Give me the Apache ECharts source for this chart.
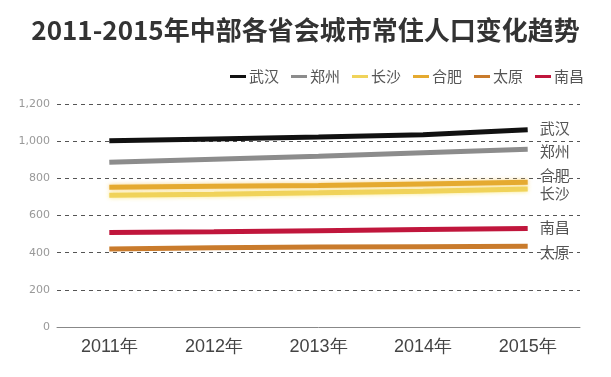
<!DOCTYPE html>
<html>
<head>
<meta charset="utf-8">
<script src="https://cdn.jsdelivr.net/npm/echarts@6/dist/echarts.min.js"></script>
<style>
  html, body { margin: 0; padding: 0; background: #fff; }
  #chart { width: 611px; height: 377px; }
</style>
</head>
<body>
<div id="chart"></div>
<script>
const years = ["2011年", "2012年", "2013年", "2014年", "2015年"];
const wuhan = [1002, 1012, 1022, 1034, 1061];
const zhengzhou = [886, 903, 919, 938, 957];
const changsha = [709, 715, 722, 731, 743];
const hefei = [752, 757, 761, 770, 779];
const taiyuan = [420, 426, 430, 432, 434];
const nanchang = [509, 512, 518, 524, 530];

const chart = echarts.init(document.getElementById("chart"));

// 每条线的样式和末端标签偏移
function line(name, data, color, offsetY, glow) {
  return {
    name: name,
    type: "line",
    data: data,
    symbol: "none",
    lineStyle: {
      width: 5,
      color: color,
      shadowColor: glow || "rgba(0,0,0,0)",
      shadowBlur: glow ? 4 : 0,
    },
    itemStyle: { color: color },
    endLabel: {
      show: true,
      formatter: "{a}",
      color: "#555",
      fontSize: 15,
      fontFamily: "Noto Sans CJK SC",
      distance: 12,
      offset: [0, offsetY],
    },
  };
}

chart.setOption({
  animation: false,
  title: {
    text: "2011-2015年中部各省会城市常住人口变化趋势",
    left: "center",
    top: 12,
    textStyle: {
      fontFamily: "Noto Sans CJK SC",
      fontSize: 26,
      fontWeight: "bold",
      color: "#333",
    },
  },
  legend: {
    top: 64,
    right: 22,
    itemWidth: 16,
    itemHeight: 3,
    itemGap: 12,
    icon: "rect",
    textStyle: {
      fontFamily: "Noto Sans CJK SC",
      fontSize: 15,
      color: "#555",
      padding: [0, 0, 0, -2],
    },
    data: ["武汉", "郑州", "长沙", "合肥", "太原", "南昌"],
  },
  grid: {
    left: 57,
    right: 31,
    top: 104,
    bottom: 50,
  },
  xAxis: {
    type: "category",
    data: years,
    boundaryGap: true,
    axisTick: { show: false },
    axisLine: { lineStyle: { color: "#888", width: 1 } },
    axisLabel: {
      fontFamily: "Liberation Sans",
      fontSize: 18,
      color: "#444",
      margin: 11,
    },
  },
  yAxis: {
    type: "value",
    min: 0,
    max: 1200,
    interval: 200,
    axisLine: { show: false },
    axisTick: { show: false },
    axisLabel: {
      fontFamily: "DejaVu Sans",
      fontSize: 11,
      color: "#999",
      margin: 7,
      formatter: (v) => v.toLocaleString("en-US"),
    },
    splitLine: {
      lineStyle: { color: "#555", type: [4, 4], width: 1 },
    },
  },
  series: [
    line("武汉", wuhan, "#111111", -2),
    line("郑州", zhengzhou, "#8c8c8c", 2),
    line("长沙", changsha, "#f0d35a", 4, "rgba(250,230,120,0.9)"),
    line("合肥", hefei, "#e5aa30", -7, "rgba(245,200,100,0.8)"),
    line("太原", taiyuan, "#c97b2c", 6),
    line("南昌", nanchang, "#c0163c", -1),
  ],
});
</script>
</body>
</html>
